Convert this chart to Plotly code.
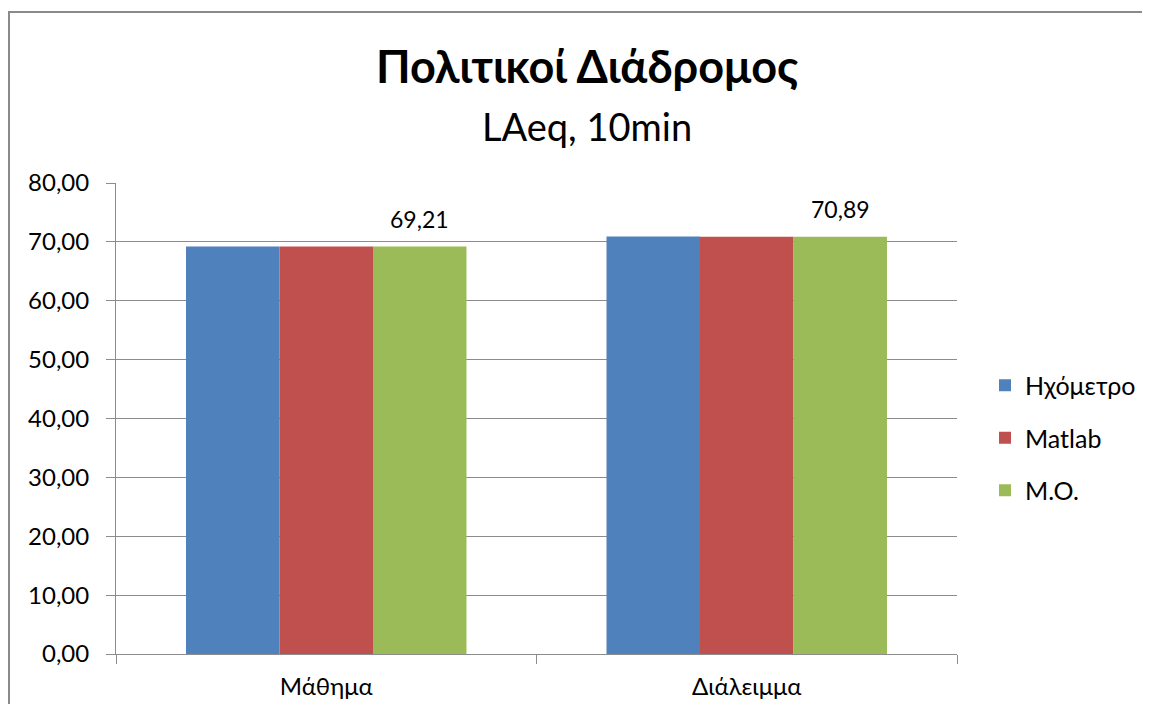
import plotly.graph_objects as go

categories = ["Μάθημα", "Διάλειμμα"]
series_names = ["Ηχόμετρο", "Matlab", "M.O."]
hxometro = [69.20, 70.90]
matlab = [69.22, 70.88]
mo = [69.21, 70.89]
colors = ["#4F81BD", "#C0504D", "#9BBB59"]
y_tickvals = [0, 10, 20, 30, 40, 50, 60, 70, 80]

FONT = "Lato, 'Noto Sans', sans-serif"
W, H = 1134, 696
OFF = 8  # default body margin of the html page
# target plot area in page pixels: x 116..957, y 183..654
L = 116 - OFF
T = 183 - OFF
R = W - (957 - OFF)
B = H - (654 - OFF)

fig = go.Figure()
for name, vals, col in zip(series_names, [hxometro, matlab, mo], colors):
    fig.add_trace(go.Bar(
        x=categories, y=vals, name=name,
        marker=dict(color=col, line=dict(width=0)),
        legendgroup=name,
    ))

pw = W - L - R
ph = H - T - B
def px(x):
    return (x - OFF - L) / pw
def py(y):
    return (H - B - (y - OFF)) / ph

bargap = 0.333
bar_px = pw / len(categories) * (1 - bargap) / 3

annotations = [
    dict(text="<b>Πολιτικοί Διάδρομος</b>", x=px(587), y=py(66), xref="paper", yref="paper",
         showarrow=False, xanchor="center", yanchor="middle",
         font=dict(family=FONT, size=45, color="#000000")),
    dict(text="LAeq, 10min", x=px(587), y=py(126), xref="paper", yref="paper",
         showarrow=False, xanchor="center", yanchor="middle",
         font=dict(family=FONT, size=38, color="#000000")),
]
for cat, v in zip(categories, mo):
    annotations.append(dict(
        text=f"{v:.2f}".replace(".", ","), x=cat, y=v, xref="x", yref="y",
        showarrow=False, xanchor="center", yanchor="middle",
        xshift=bar_px, yshift=28,
        font=dict(family=FONT, size=23, color="#000000"),
    ))

bx0, by0, bx1, by1 = px(9), py(760), px(1300), py(12)
border_path = f"M {bx0},{by0} L {bx0},{by1} L {bx1},{by1}"

fig.update_layout(
    width=W, height=H,
    margin=dict(l=L, r=R, t=T, b=B, autoexpand=False),
    paper_bgcolor="white", plot_bgcolor="white",
    separators=",.",
    barmode="group", bargap=bargap, bargroupgap=0,
    font=dict(family=FONT, color="#000000"),
    showlegend=True,
    legend=dict(x=px(985), y=py(438), xanchor="left", yanchor="middle",
                font=dict(family=FONT, size=25, color="#000000"),
                tracegroupgap=17, traceorder="grouped", bgcolor="rgba(0,0,0,0)"),
    xaxis=dict(showgrid=False, showline=True, linecolor="#8c8c8c", linewidth=1,
               ticks="outside", tickson="boundaries", ticklen=9, tickcolor="#8c8c8c",
               tickfont=dict(family=FONT, size=24, color="#000000"),
               ticklabelstandoff=11),
    yaxis=dict(range=[0, 80], tickvals=y_tickvals, tickformat=".2f",
               showgrid=True, gridcolor="#8c8c8c", gridwidth=1,
               showline=True, linecolor="#8c8c8c", linewidth=1,
               ticks="outside", ticklen=9, tickcolor="#8c8c8c",
               tickfont=dict(family=FONT, size=24, color="#000000"),
               ticklabelstandoff=12, zeroline=False),
    annotations=annotations,
    shapes=[dict(type="path", xref="paper", yref="paper", path=border_path,
                 line=dict(color="#8a8a8a", width=2), layer="below")],
)

fig.write_html(
    "out.html",
    post_script="document.body.style.overflow='hidden';document.documentElement.style.overflow='hidden';",
)
